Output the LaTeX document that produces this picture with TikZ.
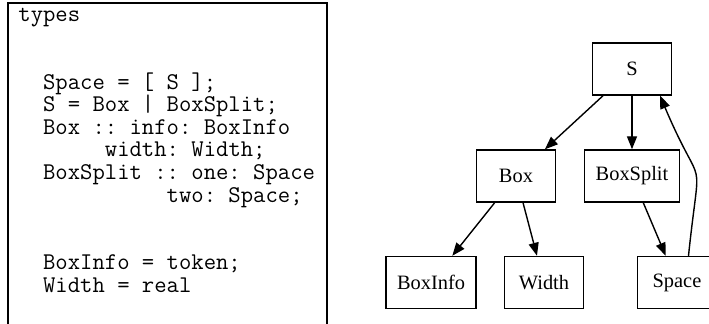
\documentclass[tikz,border=0pt]{standalone}
\usepackage{fontspec}
\newfontfamily\dotfont{Liberation Serif}
\usetikzlibrary{positioning,arrows.meta}

\tikzset{
  type/.style={draw, line width=0.7pt, minimum width=39.5pt, minimum height=26pt,
    inner xsep=5.6pt, font=\dotfont\fontsize{10.2}{12}\selectfont},
  dep/.style={-{Triangle[length=6.5pt,width=5pt]}, line width=0.7pt},
}

\begin{document}
\begin{tikzpicture}[x=0.5pt,y=-0.5pt,on grid]
\useasboundingbox (0,0) rectangle (709,324);

% the declarations (anchored at the baseline of the last line)
\draw[line width=0.8pt] (8,324) -- (8,3) -- (327,3) -- (327,324);
\node[anchor=base west, align=left, inner sep=0pt,
  font=\fontsize{12}{11.3}\selectfont\ttfamily\frenchspacing] (decls) at (18,292.5)
{types\\[22.6pt]
~~Space = [ S ];\\
~~S = Box | BoxSplit;\\
~~Box :: info: BoxInfo\\
~~~~~~~width: Width;\\
~~BoxSplit :: one: Space\\
~~~~~~~~~~~~two: Space;\\[22.6pt]
~~BoxInfo = token;\\
~~Width = real};

% the type graph
\node[type] (S) at (632,69) {S};
\node[type, below=53.5pt of S] (BoxSplit) {BoxSplit};
\node[type, left=58pt of BoxSplit] (Box) {Box};
\node[type, below left=53.25pt and 42.5pt of Box] (BoxInfo) {BoxInfo};
\node[type, right=56.5pt of BoxInfo] (Width) {Width};
\node[type, right=66.5pt of Width] (Space) {Space};

\draw[dep] (S) -- (Box);
\draw[dep] (S) -- (BoxSplit);
\draw[dep] (Box) -- (BoxInfo);
\draw[dep] (Box) -- (Width);
\draw[dep] (BoxSplit) -- (Space);
\draw[dep] ([xshift=5.75pt]Space.north) to[out=84,in=-67,looseness=1.8] ([xshift=14pt]S.south);
\end{tikzpicture}
\end{document}
